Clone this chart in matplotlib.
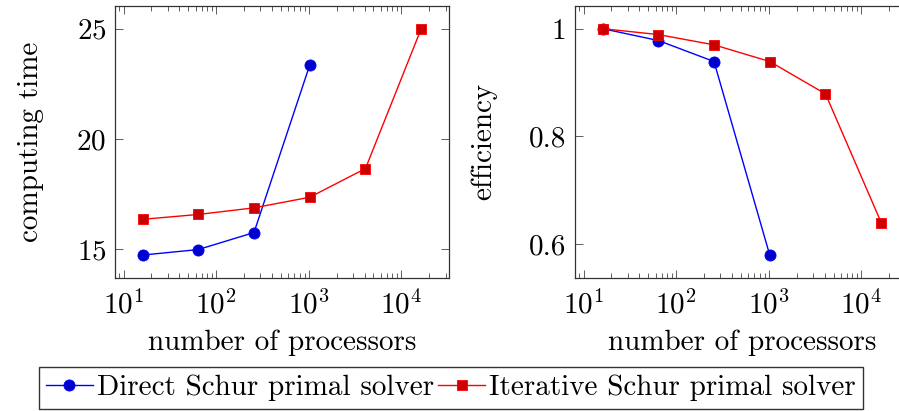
import matplotlib
matplotlib.use("Agg")
import matplotlib.pyplot as plt
from matplotlib.ticker import LogLocator, FixedLocator, FuncFormatter, NullFormatter

plt.rcParams['font.family'] = ['cmr10', 'DejaVu Serif']
plt.rcParams['mathtext.fontset'] = 'cm'
plt.rcParams['axes.formatter.use_mathtext'] = True

procs_direct = [16, 64, 256, 1024]
procs_iter = [16, 64, 256, 1024, 4096, 16384]
time_direct = [14.74, 14.99, 15.76, 23.35]
time_iter = [16.36, 16.58, 16.88, 17.36, 18.66, 25.0]
eff_direct = [1.0, 0.978, 0.939, 0.58]
eff_iter = [1.0, 0.989, 0.970, 0.939, 0.879, 0.64]

label_direct = "Direct Schur primal solver"
label_iter = "Iterative Schur primal solver"
xlabel = "number of processors"
ylabel_left = "computing time"
ylabel_right = "efficiency"

FS = 21
fig = plt.figure(figsize=(8.99, 4.11), dpi=100)
ax1 = fig.add_axes([0.1276, 0.3243, 0.3719, 0.6611])
ax2 = fig.add_axes([0.6393, 0.3243, 0.3719, 0.6611])

sty_d = dict(color=(0, 0, 1), lw=1.0, marker='o', ms=8, mfc=(0, 0, 0.8), mec=(0, 0, 1), mew=0.6)
sty_i = dict(color=(1, 0, 0), lw=1.0, marker='s', ms=7.8, mfc=(0.8, 0, 0), mec=(1, 0, 0), mew=0.6)

for ax, yd, yi, yl in [(ax1, time_direct, time_iter, ylabel_left), (ax2, eff_direct, eff_iter, ylabel_right)]:
    ld, = ax.plot(procs_direct, yd, label=label_direct, **sty_d)
    li, = ax.plot(procs_iter, yi, label=label_iter, **sty_i)
    ax.set_xscale('log')
    ax.set_xlim(10**0.904, 10**4.515)
    allv = list(yd) + list(yi)
    lo, hi = min(allv), max(allv)
    pad = 0.1 * (hi - lo)
    ax.set_ylim(lo - pad, hi + pad)
    ax.xaxis.set_major_locator(LogLocator(base=10, numticks=10))
    ax.xaxis.set_minor_locator(LogLocator(base=10, subs=range(2, 10), numticks=20))
    ax.xaxis.set_minor_formatter(NullFormatter())
    ax.tick_params(which='both', direction='in', top=True, right=True, labelsize=FS, color='#444444', width=0.6)
    ax.tick_params(which='major', length=6, pad=6)
    ax.tick_params(axis='x', which='major', pad=9)
    ax.tick_params(which='minor', length=3.5)
    for s in ax.spines.values():
        s.set_linewidth(0.9)
        s.set_color('#333333')
    ax.set_xlabel(xlabel, fontsize=FS, labelpad=7)
    ax.set_ylabel(yl, fontsize=FS, labelpad=23)

ax1.yaxis.set_major_locator(FixedLocator([15, 20, 25]))
ax2.yaxis.set_major_locator(FixedLocator([0.6, 0.8, 1.0]))
ax2.yaxis.set_major_formatter(FuncFormatter(lambda v, p: ('%g' % v)))

h, l = ax1.get_legend_handles_labels()
leg = fig.legend(h, l, loc='center', bbox_to_anchor=(451 / 899, 1 - 388 / 411), ncol=2, fontsize=FS,
                 frameon=True, fancybox=False, edgecolor='black', handlelength=1.6, handletextpad=0.15,
                 columnspacing=0.15, borderpad=0.25, borderaxespad=0)
leg.get_frame().set_linewidth(1.0)

fig.savefig('out.png', dpi=100)
